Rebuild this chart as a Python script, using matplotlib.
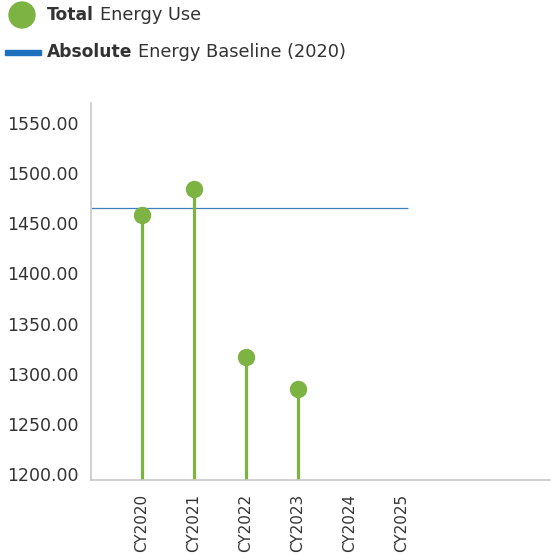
import matplotlib
matplotlib.use("Agg")
import matplotlib.pyplot as plt
from matplotlib.patches import Circle, Rectangle
from matplotlib.ticker import FuncFormatter

categories = ["CY2020", "CY2021", "CY2022", "CY2023", "CY2024", "CY2025"]
energy_use = [1458, 1484, 1317, 1285]
baseline = 1465
y_ticks = [1200, 1250, 1300, 1350, 1400, 1450, 1500, 1550]

W, H = 557, 556
plt.rcParams['font.family'] = ['DejaVu Sans']
fig = plt.figure(figsize=(W / 100, H / 100), dpi=100)

green = '#7cb342'
blue = '#1f6fbf'
text_c = '#333333'

ax = fig.add_axes([91 / W, 1 - 480 / H, (550 - 91) / W, (480 - 103) / H])
x = list(range(len(categories)))
for xi, v in zip(x, energy_use):
    ax.vlines(xi, 1150, v, color=green, linewidth=2.3, zorder=2)
ax.plot(x[:len(energy_use)], energy_use, 'o', color=green, markersize=11.5, zorder=3)
ax.hlines(baseline, -0.98, 5.12, color='#3f7fbf', linewidth=0.9, zorder=1)

ax.set_xlim(-0.98, 7.85)
ax.set_ylim(1194, 1570)
ax.set_yticks(y_ticks)
ax.yaxis.set_major_formatter(FuncFormatter(lambda v, p: f"{v:.2f}"))
ax.set_xticks(x)
ax.set_xticklabels(categories, rotation=90)
ax.tick_params(axis='both', length=0, colors=text_c)
ax.tick_params(axis='y', labelsize=12.5, pad=9)
ax.tick_params(axis='x', labelsize=11, pad=10)
for s in ['top', 'right']:
    ax.spines[s].set_visible(False)
for s in ['left', 'bottom']:
    ax.spines[s].set_color('#c8c8c8')
    ax.spines[s].set_linewidth(1.2)

# legend
fig.patches.append(Circle((22 / W, 1 - 15 / H), 13 / W, transform=fig.transFigure,
                          color=green, figure=fig))
fig.patches.append(Rectangle((5 / W, 1 - 55 / H), 36 / W, 5 / H, transform=fig.transFigure,
                             color=blue, figure=fig))
fs_b = 12.3
fs_n = 12.8
t1 = fig.text(47 / W, 1 - 15 / H, "Total", fontsize=fs_b, color=text_c, va='center', fontweight='bold')
t2 = fig.text(47 / W, 1 - 52 / H, "Absolute", fontsize=fs_b, color=text_c, va='center', fontweight='bold')
fig.canvas.draw()
r = fig.canvas.get_renderer()
bb = t1.get_window_extent(r)
fig.text((bb.x1 + 6) / W, 1 - 15 / H, "Energy Use", fontsize=fs_n, color=text_c, va='center')
bb2 = t2.get_window_extent(r)
fig.text((bb2.x1 + 6) / W, 1 - 52 / H, "Energy Baseline (2020)", fontsize=fs_n, color=text_c, va='center')

fig.savefig("out.png", dpi=100)
